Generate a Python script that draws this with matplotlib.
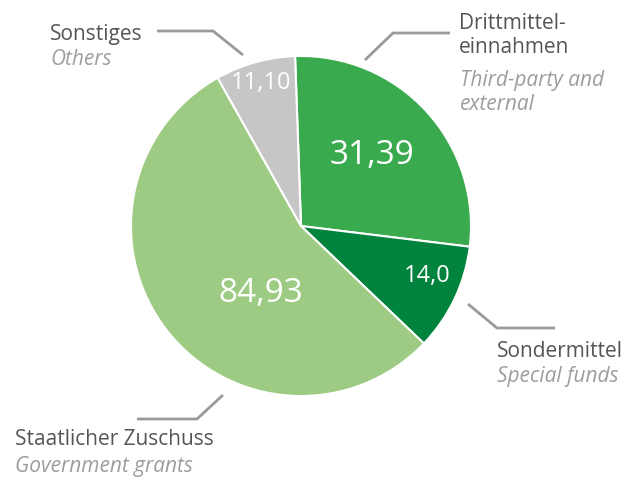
import matplotlib
matplotlib.use("Agg")
import matplotlib.pyplot as plt

# Data
categories_de = ["Drittmittel-\neinnahmen", "Sondermittel", "Staatlicher Zuschuss", "Sonstiges"]
categories_en = ["Third-party and\nexternal", "Special funds", "Government grants", "Others"]
value_labels = ["31,39", "14,0", "84,93", "11,10"]
# slice shares as drawn in the picture (percent of circle)
shares = [27.5, 10.2, 54.7, 7.6]
colors = ["#3aaa4f", "#00843d", "#9dcb83", "#c6c6c6"]

plt.rcParams['font.family'] = ['Open Sans', 'DejaVu Sans']

W, H = 643, 480
fig = plt.figure(figsize=(W / 100, H / 100), dpi=100)
ax = fig.add_axes([0, 0, 1, 1])

def Y(y):
    return H - y

cx, cy, r = 301, 226, 170
ax.pie(shares, colors=colors, startangle=92, counterclock=False,
       center=(cx, Y(cy)), radius=r,
       wedgeprops=dict(edgecolor="white", linewidth=1.5))

ax.set_xlim(0, W)
ax.set_ylim(0, H)
ax.set_aspect("auto")
ax.axis("off")

# value labels inside slices
val_pos = [(372, 156), (427, 276), (261, 294), (261, 83)]
val_size = [24, 17, 24, 17]
for (x, y), t, s in zip(val_pos, value_labels, val_size):
    ax.text(x, Y(y), t, color="white", fontsize=s, ha="center", va="center")

dark = "#555555"
light = "#9d9d9d"
line_c = "#9a9a9a"

# leader lines
leaders = [
    [(365, 60), (393, 33), (450, 33)],
    [(468, 304), (497, 328), (555, 328)],
    [(223, 395), (197, 419), (137, 419)],
    [(243, 55), (213, 31), (157, 31)],
]
for pts in leaders:
    xs = [p[0] for p in pts]
    ys = [Y(p[1]) for p in pts]
    ax.plot(xs, ys, color=line_c, lw=2, solid_capstyle="butt")

# category texts (German dark, English italic light)
de_pos = [(459, 53), (497, 357), (15, 445), (50, 40)]
en_pos = [(460, 110), (497, 382), (15, 472), (50, 65)]
for (x, y), t in zip(de_pos, categories_de):
    ax.text(x, Y(y), t, color=dark, fontsize=15, ha="left", va="baseline",
            linespacing=1.2)
for (x, y), t in zip(en_pos, categories_en):
    ax.text(x, Y(y), t, color=light, fontsize=15, style="italic", ha="left",
            va="baseline", linespacing=1.2)

fig.savefig("out.png", dpi=100)
